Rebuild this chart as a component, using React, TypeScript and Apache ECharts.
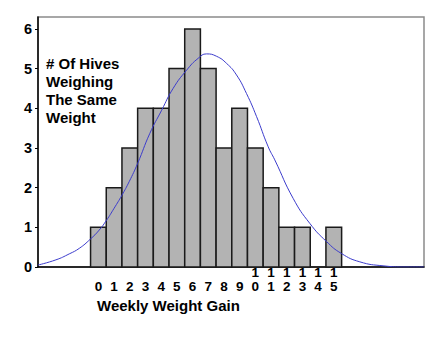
import React, { useEffect, useRef } from "react";
import * as echarts from "echarts";

const categories = [0, 1, 2, 3, 4, 5, 6, 7, 8, 9, 10, 11, 12, 13, 14, 15];
const counts = [1, 2, 3, 4, 4, 5, 6, 5, 3, 4, 3, 2, 1, 1, 0, 1];
const yTicks = [0, 1, 2, 3, 4, 5, 6];

// Curve (x in weight-gain units, y in hive counts)
const curveX = [-3.85, -2.71, -1.86, -1.22, -0.52, 0.05, 0.52, 1.0, 1.5, 1.96, 2.5, 3.28, 4.03, 4.76, 5.62, 6.36, 6.89, 7.53, 8.17, 8.8, 9.44, 10.08, 10.82, 11.24, 12.41, 13.47, 14.54, 15.49, 16.66, 18.14, 19.6, 20.75];
const curveY = [0.05, 0.18, 0.33, 0.47, 0.7, 0.93, 1.18, 1.48, 1.81, 2.15, 2.61, 3.37, 3.95, 4.5, 4.96, 5.26, 5.37, 5.31, 5.13, 4.84, 4.37, 3.79, 3.03, 2.7, 1.73, 1.1, 0.64, 0.34, 0.13, 0.03, 0.0, 0.0];

const yAxisTitle = "# Of Hives\nWeighing\nThe Same\nWeight";
const xAxisTitle = "Weekly Weight Gain";

const FONT = "'Liberation Sans', Arial, sans-serif";

export default function App() {
  const ref = useRef<HTMLDivElement>(null);
  useEffect(() => {
    if (!ref.current) return;
    const chart = echarts.init(ref.current, null, { renderer: "svg" });
    const barData = categories.map((c, i) => [c, counts[i]]);
    const lineData = curveX.map((x, i) => [x, curveY[i]]);
    chart.setOption({
      animation: false,
      backgroundColor: "#fff",
      textStyle: { fontFamily: FONT },
      grid: {
        left: 38,
        top: 17,
        right: 21,
        bottom: 93,
        show: true,
        borderColor: "#8a8a8a",
        borderWidth: 1.5,
        backgroundColor: "transparent",
      },
      title: {
        text: xAxisTitle,
        left: 97,
        top: 298,
        textStyle: { fontFamily: FONT, fontSize: 15, fontWeight: "bold", color: "#000" },
        padding: 0,
      },
      graphic: [
        {
          type: "text",
          left: 46,
          top: 54,
          style: {
            text: yAxisTitle,
            font: `bold 15px ${FONT}`,
            lineHeight: 18,
            fill: "#000",
          },
        },
      ],
      xAxis: {
        type: "value",
        min: -3.85,
        max: 20.75,
        splitLine: { show: false },
        axisLine: { show: true, onZero: false, lineStyle: { color: "#000", width: 1.5 } },
        axisTick: { show: false },
        axisLabel: {
          customValues: categories,
          margin: -2,
          fontSize: 13.5,
          fontWeight: "bold",
          color: "#000",
          fontFamily: FONT,
          lineHeight: 14,
          formatter: (v: number) => {
            const s = String(Math.round(v));
            return s.length > 1 ? s.split("").join("\n") : "\n" + s;
          },
        },
      },
      yAxis: {
        type: "value",
        min: 0,
        max: 6.3,
        splitLine: { show: false },
        axisLine: { show: true, onZero: false, lineStyle: { color: "#000", width: 1.5 } },
        axisTick: { show: true, length: 3, customValues: yTicks, lineStyle: { color: "#000" } },
        axisLabel: {
          customValues: yTicks,
          margin: 6,
          fontSize: 14.5,
          fontWeight: "bold",
          color: "#000",
          fontFamily: FONT,
        },
      },
      series: [
        {
          type: "custom",
          data: barData,
          z: 2,
          renderItem: (params: any, api: any) => {
            const x = api.value(0);
            const y = api.value(1);
            if (!y) return null;
            const p0 = api.coord([x - 0.5, y]);
            const p1 = api.coord([x + 0.5, 0]);
            return {
              type: "rect",
              shape: { x: p0[0], y: p0[1], width: p1[0] - p0[0], height: p1[1] - p0[1] },
              style: { fill: "#b3b3b3", stroke: "#1a1a1a", lineWidth: 1.5 },
            };
          },
        },
        {
          type: "line",
          data: lineData,
          smooth: true,
          showSymbol: false,
          z: 3,
          lineStyle: { color: "#3c3ccc", width: 1 },
        },
      ],
    });
    return () => chart.dispose();
  }, []);
  return (
    <div
      ref={ref}
      style={{ position: "fixed", left: 0, top: 0, width: 445, height: 360, background: "#fff" }}
    />
  );
}
